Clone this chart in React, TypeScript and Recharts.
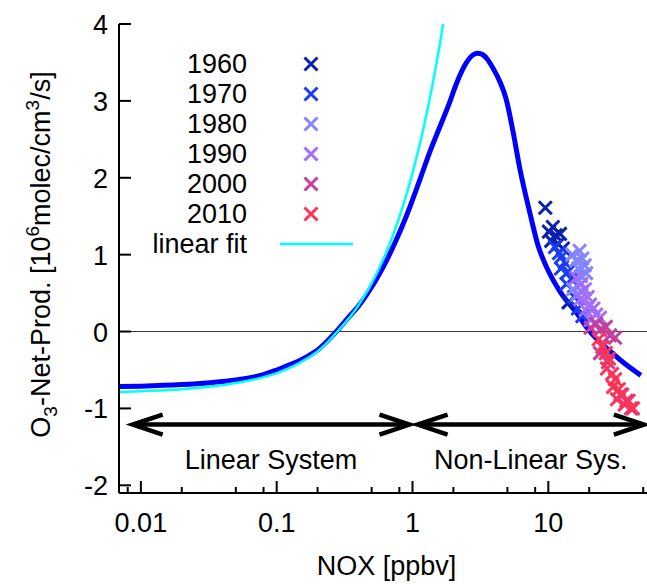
import React from 'react'
import {
  ComposedChart,
  Line,
  Scatter,
  XAxis,
  YAxis,
  ReferenceLine,
  Legend,
} from 'recharts'

const FONT = '"Liberation Sans", Arial, Helvetica, sans-serif'
const FS = 27

// model curve: net O3 production vs NOx
const modelNox = [0.0069, 0.01, 0.02, 0.032, 0.05, 0.075, 0.1, 0.13, 0.17, 0.2, 0.24, 0.275, 0.34, 0.4, 0.46, 0.6, 0.75, 0.9, 1.13, 1.35, 1.58, 1.85, 2.1, 2.5, 2.8, 3.02, 3.3, 3.6, 3.9, 4.4, 4.9, 5.5, 6.2, 7.3, 8.4, 9.7, 12.2, 16.2, 20.2, 27, 35.5, 48]
const modelProd = [-0.715, -0.71, -0.69, -0.665, -0.63, -0.575, -0.5, -0.42, -0.32, -0.24, -0.11, 0.0, 0.19, 0.33, 0.48, 0.82, 1.17, 1.5, 1.97, 2.35, 2.65, 2.95, 3.22, 3.5, 3.6, 3.62, 3.6, 3.53, 3.43, 3.25, 3.02, 2.6, 2.1, 1.55, 1.12, 0.84, 0.52, 0.24, 0.0, -0.22, -0.4, -0.57]

// linear fit
const fitNox = [0.0069, 0.01, 0.02, 0.05, 0.1, 0.15, 0.2, 0.28, 0.4, 0.55, 0.7, 0.85, 1.0, 1.2, 1.4, 1.6, 1.75]
const fitProd = [-0.785, -0.775, -0.75, -0.67, -0.54, -0.4, -0.26, 0.0, 0.34, 0.77, 1.2, 1.63, 2.06, 2.63, 3.2, 3.77, 4.2]

// observations per decade [nox, prod]
const obs1960 = [[9.5, 1.61], [10.1, 1.3], [10.8, 1.36], [11.3, 1.25], [10.5, 1.18], [12.2, 1.27], [11.8, 1.14], [12.8, 1.08], [14.1, 0.38]]
const obs1970 = [[11.2, 1.1], [12, 1.02], [12.6, 0.98], [13.2, 0.9], [12.4, 0.82], [14, 0.78], [14.8, 0.68], [13.6, 0.62], [15.5, 0.45], [16.5, 0.3], [17.8, 0.2]]
const obs1980 = [[15, 1.0], [16, 0.92], [17, 1.05], [17.8, 0.95], [16.6, 0.82], [18.5, 0.86], [17.4, 0.72], [15.2, 0.55], [16.3, 0.48], [17.6, 0.52], [19, 0.76]]
const obs1990 = [[16, 0.7], [17.5, 0.62], [18.6, 0.55], [17.2, 0.42], [19.5, 0.45], [20.3, 0.35], [18.8, 0.28], [21.5, 0.3], [22.5, 0.22], [20.5, 0.15], [24, 0.18]]
const obs2000 = [[20.5, 0.05], [22.5, 0.1], [24, 0.02], [26.5, 0.06], [28.5, -0.05], [31, -0.08], [24, -0.28], [27.5, -0.4], [34, -0.82], [37.5, -0.9], [40.5, -1.0]]
const obs2010 = [[23.5, -0.1], [25, -0.2], [26.5, -0.28], [28, -0.35], [27, -0.48], [29.5, -0.55], [31, -0.62], [30, -0.72], [33, -0.75], [32, -0.88], [35, -0.82], [36.5, -0.95], [39, -0.9], [42, -1.0]]

const years = ['1960', '1970', '1980', '1990', '2000', '2010']
const yearColors = ['#0a22b0', '#1a3cf5', '#8585ff', '#a26cff', '#c63f9c', '#ff3355']
const yearObs = [obs1960, obs1970, obs1980, obs1990, obs2000, obs2010]

const xTicks = [0.008, 0.01, 0.02, 0.05, 0.08, 0.1, 0.2, 0.5, 0.8, 1, 2, 5, 8, 10, 20, 50]
const xLabelled = [0.01, 0.1, 1, 10]
const yTicks = [-2, -1, 0, 1, 2, 3, 4]
const X_DOMAIN = [0.0069, 60]
const Y_DOMAIN = [-2.1, 4]

// regime arrows
const linearArrowNox = [0.0087, 0.95]
const nonLinearArrowNox = [1.09, 50.5]
const arrowProd = -1.21

const toPoints = (xs: number[], ys: number[]) => xs.map((x, i) => ({ x, y: ys[i] }))
const modelData = toPoints(modelNox, modelProd)
const fitData = toPoints(fitNox, fitProd)

const Cross = (props: any) => {
  const { cx, cy, fill } = props
  const r = 6.5
  return (
    <path
      d={`M${cx - r},${cy - r}L${cx + r},${cy + r}M${cx - r},${cy + r}L${cx + r},${cy - r}`}
      stroke={fill}
      strokeWidth={3}
      fill="none"
    />
  )
}

const BottomTick = (props: any) => {
  const { x, y, payload } = props
  const major = xLabelled.includes(payload.value)
  return (
    <g>
      <line x1={x} y1={y} x2={x} y2={y - (major ? 12 : 6)} stroke="#000" strokeWidth={2} />
      {major && (
        <text x={x} y={y + 39} textAnchor="middle" fontSize={FS} fontFamily={FONT} fill="#000">
          {payload.value}
        </text>
      )}
    </g>
  )
}

const TopTick = (props: any) => {
  const { x, y, payload } = props
  const major = xLabelled.includes(payload.value)
  return <line x1={x} y1={y} x2={x} y2={y + (major ? 12 : 6)} stroke="#000" strokeWidth={2} />
}

const LeftTick = (props: any) => {
  const { x, y, payload } = props
  return (
    <g>
      <line x1={x} y1={y} x2={x + 12} y2={y} stroke="#000" strokeWidth={2} />
      <text x={x - 11} y={y + 10} textAnchor="end" fontSize={FS} fontFamily={FONT} fill="#000">
        {payload.value}
      </text>
    </g>
  )
}

const RightTick = (props: any) => {
  const { x, y } = props
  return <line x1={x} y1={y} x2={x - 12} y2={y} stroke="#000" strokeWidth={2} />
}

const XTitle = (props: any) => {
  const { viewBox } = props
  return (
    <text x={viewBox.x + viewBox.width / 2} y={viewBox.y + 82} textAnchor="middle" fontSize={FS} fontFamily={FONT} fill="#000">
      NOX [ppbv]
    </text>
  )
}

const YTitle = (props: any) => {
  const { viewBox } = props
  const cx = viewBox.x + 50
  const cy = viewBox.y + viewBox.height / 2 - 4
  return (
    <text transform={`rotate(-90 ${cx} ${cy})`} x={cx} y={cy} textAnchor="middle" fontSize={FS} fontFamily={FONT} fill="#000">
      O<tspan dy={7} fontSize={19}>3</tspan>
      <tspan dy={-7}>-Net-Prod. [10</tspan>
      <tspan dy={-11} fontSize={19}>6</tspan>
      <tspan dy={11}>molec/cm</tspan>
      <tspan dy={-11} fontSize={19}>3</tspan>
      <tspan dy={11}>/s]</tspan>
    </text>
  )
}

const arrowShape = (label: string) => (props: any) => {
  const { x1, y1, x2, y2 } = props
  const h = 30
  const w = 10
  return (
    <g>
      <line x1={x1 + 3} y1={y1} x2={x2 - 3} y2={y2} stroke="#000" strokeWidth={4.5} />
      <polyline points={`${x1 + h},${y1 - w} ${x1},${y1} ${x1 + h},${y1 + w}`} fill="none" stroke="#000" strokeWidth={4.5} />
      <polyline points={`${x2 - h},${y2 - w} ${x2},${y2} ${x2 - h},${y2 + w}`} fill="none" stroke="#000" strokeWidth={4.5} />
      <text x={(x1 + x2) / 2} y={y1 + 44} textAnchor="middle" fontSize={FS} fontFamily={FONT} fill="#000">
        {label}
      </text>
    </g>
  )
}

const LegendBox = (props: any) => {
  const items = (props.payload || [])
    .filter((e: any) => e.type !== 'none')
    .sort((a: any, b: any) => {
      const la = a.type === 'line' ? 1 : 0
      const lb = b.type === 'line' ? 1 : 0
      return la - lb || String(a.value).localeCompare(String(b.value))
    })
  return (
    <div style={{ fontFamily: FONT, fontSize: FS, color: '#000' }}>
      {items.map((e: any) => (
        <div key={e.value} style={{ display: 'flex', alignItems: 'center', height: 30 }}>
          <span style={{ width: 97, textAlign: 'right', lineHeight: '30px' }}>{e.value}</span>
          <svg width={73} height={30} style={{ marginLeft: 33 }}>
            {e.type === 'line' ? (
              <line x1={0} y1={15} x2={73} y2={15} stroke={e.color} strokeWidth={2.5} />
            ) : (
              <Cross cx={31} cy={15} fill={e.color} />
            )}
          </svg>
        </div>
      ))}
    </div>
  )
}

const App: React.FC = () => {
  return (
    <div style={{ position: 'absolute', left: 0, top: 0, width: 647, height: 584, overflow: 'hidden', background: '#fff' }}>
      <ComposedChart width={660} height={584} margin={{ top: 24, right: 6, bottom: 0, left: 0 }}>
        <XAxis
          dataKey="x"
          type="number"
          scale="log"
          domain={X_DOMAIN}
          allowDataOverflow
          ticks={xTicks}
          interval={0}
          height={91}
          tickSize={0}
          tickMargin={0}
          tickLine={false}
          tick={BottomTick}
          axisLine={{ stroke: '#000', strokeWidth: 2 }}
          label={XTitle}
        />
        <XAxis
          xAxisId="top"
          orientation="top"
          dataKey="x"
          type="number"
          scale="log"
          domain={X_DOMAIN}
          allowDataOverflow
          ticks={xTicks}
          interval={0}
          height={0}
          tickSize={0}
          tickMargin={0}
          tickLine={false}
          tick={TopTick}
          axisLine={{ stroke: '#000', strokeWidth: 2 }}
        />
        <YAxis
          type="number"
          domain={Y_DOMAIN}
          allowDataOverflow
          ticks={yTicks}
          interval={0}
          width={119}
          tickSize={0}
          tickMargin={0}
          tickLine={false}
          tick={LeftTick}
          axisLine={{ stroke: '#000', strokeWidth: 2 }}
          label={YTitle}
        />
        <YAxis
          yAxisId="right"
          orientation="right"
          type="number"
          domain={Y_DOMAIN}
          allowDataOverflow
          ticks={yTicks}
          interval={0}
          width={0}
          tickSize={0}
          tickMargin={0}
          tickLine={false}
          tick={RightTick}
          axisLine={{ stroke: '#000', strokeWidth: 2 }}
        />
        <ReferenceLine y={0} stroke="#333" strokeWidth={1} />
        <ReferenceLine
          segment={[{ x: linearArrowNox[0], y: arrowProd }, { x: linearArrowNox[1], y: arrowProd }]}
          shape={arrowShape('Linear System')}
        />
        <ReferenceLine
          segment={[{ x: nonLinearArrowNox[0], y: arrowProd }, { x: nonLinearArrowNox[1], y: arrowProd }]}
          shape={arrowShape('Non-Linear Sys.')}
        />
        {years.map((yr, i) => (
          <Scatter
            key={yr}
            name={yr}
            data={yearObs[i].map(([x, y]) => ({ x, y }))}
            dataKey="y"
            fill={yearColors[i]}
            shape={Cross}
            legendType="cross"
            isAnimationActive={false}
          />
        ))}
        <Line
          data={modelData}
          dataKey="y"
          type="monotone"
          stroke="#0000ff"
          strokeWidth={5}
          dot={false}
          legendType="none"
          isAnimationActive={false}
        />
        <Line
          data={fitData}
          dataKey="y"
          name="linear fit"
          type="monotone"
          stroke="#00ffff"
          strokeWidth={2.5}
          dot={false}
          legendType="line"
          isAnimationActive={false}
        />
        <Legend
          layout="horizontal"
          verticalAlign="middle"
          align="center"
          content={LegendBox}
          wrapperStyle={{ left: 150, top: 49, width: 240 }}
        />
      </ComposedChart>
    </div>
  )
}

export default App
